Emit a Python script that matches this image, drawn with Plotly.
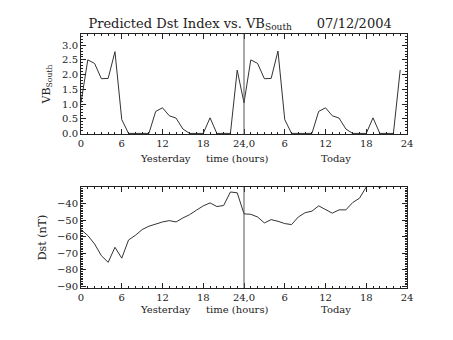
import plotly.graph_objects as go
from plotly.subplots import make_subplots

hours = list(range(48))
vb_south = [1.05, 2.50, 2.38, 1.86, 1.87, 2.78, 0.47, 0.0, 0.0, 0.0, 0.0, 0.75,
            0.87, 0.60, 0.52, 0.15, 0.0, 0.0, 0.0, 0.53, 0.0, 0.0, 0.0, 2.15,
            1.04, 2.50, 2.38, 1.86, 1.87, 2.80, 0.47, 0.0, 0.0, 0.0, 0.0, 0.75,
            0.87, 0.60, 0.52, 0.15, 0.0, 0.0, 0.0, 0.53, 0.0, 0.0, 0.0, 2.16]
dst = [-55.7, -59.3, -64.4, -71.5, -75.5, -66.4, -73.0, -62.0, -59.2, -55.7, -53.7, -52.3,
       -51.1, -50.3, -51.1, -48.7, -46.7, -44.0, -41.4, -39.6, -41.8, -41.2, -33.0, -33.5,
       -46.2, -46.5, -48.1, -51.7, -49.7, -50.7, -52.1, -52.7, -48.1, -45.5, -44.6, -41.4,
       -43.6, -45.8, -43.8, -43.8, -39.4, -36.8, -30.0, -28.5, -30.3, -28.5, -27.5, -27.0]
tick_vals = [0, 6, 12, 18, 24, 30, 36, 42, 48]
tick_text = ["0", "6", "12", "18", "24,0", "6", "12", "18", "24"]
sub_labels = ["Yesterday", "time (hours)", "Today"]
sub_pos = [12.5, 23.0, 37.5]

FONT = "DejaVu Serif"
INK = "#222222"

fig = make_subplots(rows=2, cols=1, vertical_spacing=0.2)
fig.add_trace(go.Scatter(x=hours, y=vb_south, mode="lines",
                         line=dict(color="#333333", width=1)), row=1, col=1)
fig.add_trace(go.Scatter(x=hours, y=dst, mode="lines",
                         line=dict(color="#333333", width=1)), row=2, col=1)

axis_common = dict(showgrid=False, zeroline=False, showline=True, linecolor=INK,
                   linewidth=1, mirror="allticks", ticks="inside", tickcolor=INK,
                   ticklen=5, tickfont=dict(family=FONT, size=10, color=INK))
for r in (1, 2):
    fig.update_xaxes(range=[0, 48], tickvals=tick_vals, ticktext=tick_text,
                     minor=dict(dtick=1, ticklen=2, ticks="inside", tickcolor=INK),
                     row=r, col=1, **axis_common)
fig.update_yaxes(range=[-0.02, 3.38], dtick=0.5, tickformat=".1f",
                 minor=dict(dtick=0.1, ticklen=2, ticks="inside", tickcolor=INK),
                 title=dict(text="VB<sub>South</sub>", font=dict(family=FONT, size=11, color=INK),
                            standoff=9),
                 row=1, col=1, **axis_common)
fig.update_yaxes(range=[-91, -30], tickvals=[-90, -80, -70, -60, -50, -40],
                 minor=dict(dtick=1, ticklen=2, ticks="inside", tickcolor=INK),
                 title=dict(text="Dst (nT)", font=dict(family=FONT, size=11, color=INK),
                            standoff=8),
                 row=2, col=1, **axis_common)

H = 340
t, b = 34, 52
ph = H - t - b
fig.update_layout(
    width=453, height=H,
    margin=dict(l=81, r=46, t=t, b=b),
    paper_bgcolor="white", plot_bgcolor="white", showlegend=False,
    title=dict(text="Predicted Dst Index vs. VB<sub>South</sub>\u00a0\u00a0\u00a0\u00a0\u00a0 07/12/2004",
               x=0.53, xanchor="center", y=1 - 23 / H, yanchor="middle",
               font=dict(family=FONT, size=13, color=INK)),
    font=dict(family=FONT, color=INK),
)
fig.update_layout(yaxis=dict(domain=[(288 - 134) / ph, 1.0]),
                  yaxis2=dict(domain=[0.0, (288 - 187) / ph]))

for r, yr in ((1, "y"), (2, "y2")):
    fig.add_shape(type="line", xref="x" if r == 1 else "x2", yref=f"{yr} domain",
                  x0=24, x1=24, y0=0, y1=1, line=dict(color="#555555", width=1))

for xa, ypix in (("x", 158), ("x2", 309)):
    for lab, pos in zip(sub_labels, sub_pos):
        fig.add_annotation(text=lab, x=pos, xref=xa, y=(H - b - ypix) / ph, yref="paper",
                           showarrow=False, xanchor="center", yanchor="middle",
                           font=dict(family=FONT, size=10, color=INK))

fig.write_html("out.html")
